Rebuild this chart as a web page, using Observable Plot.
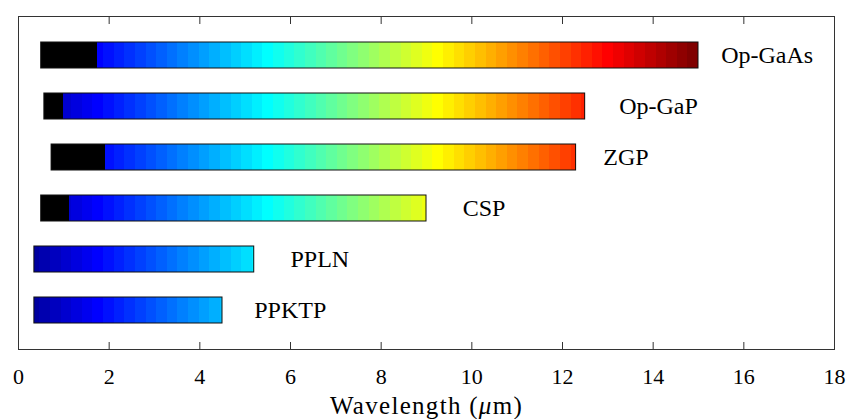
<!DOCTYPE html>
<html>
<head>
<meta charset="utf-8">
<script src="https://cdn.jsdelivr.net/npm/d3@7"></script>
<script src="https://cdn.jsdelivr.net/npm/@observablehq/plot@0.6"></script>
<style>
  html, body { margin: 0; padding: 0; background: #fff; }
  #chart svg { display: block; }
</style>
</head>
<body>
<div id="chart"></div>
<script>
// ---- data ----
const materials = ["Op-GaAs", "Op-GaP", "ZGP", "CSP", "PPLN", "PPKTP"];
const startUm    = [0.50, 0.57, 0.73, 0.50, 0.35, 0.35];
const blackEndUm = [1.74, 1.00, 1.92, 1.12, 0.35, 0.35];
const endUm      = [15.0, 12.5, 12.3, 9.0, 5.2, 4.5];
const labelXUm   = [15.5, 13.25, 12.9, 9.8, 6.0, 5.2];
const xTicks = [0, 2, 4, 6, 8, 10, 12, 14, 16, 18];
const colorMaxUm = 15;   // jet colormap spans 0..15 um
const jetSteps = 64;
const axisTitle = "Wavelength (μm)";

// MATLAB jet(64)
function jet(j) { // j: 1..64
  const u = k => (k < 1 || k > 47) ? 0 : (k <= 16 ? k / 16 : (k <= 31 ? 1 : (48 - k) / 16));
  const r = u(j - 24), g = u(j - 8), b = u(j + 8);
  return `rgb(${Math.round(r * 255)},${Math.round(g * 255)},${Math.round(b * 255)})`;
}

const rows = materials.map((name, i) => ({
  name, start: startUm[i], blackEnd: blackEndUm[i], end: endUm[i], lx: labelXUm[i]
}));

// colour stripes of the colormap between the black part and the end of each bar
const stripes = [];
const w = colorMaxUm / jetSteps;
for (const r of rows) {
  for (let k = 0; k < jetSteps; k++) {
    const a = Math.max(k * w, r.blackEnd), b = Math.min((k + 1) * w, r.end);
    if (b > a) stripes.push({name: r.name, x1: a, x2: b, color: jet(k + 1)});
  }
}
const blacks = rows.filter(r => r.blackEnd > r.start);

const chart = Plot.plot({
  width: 848,
  height: 419,
  marginTop: 16,
  marginRight: 14,
  marginBottom: 70,
  marginLeft: 18,
  style: {fontFamily: "'Liberation Serif', 'Times New Roman', serif", fontSize: "22px", color: "#000", background: "#fff"},
  x: {domain: [0, 18], ticks: xTicks, label: null},
  y: {type: "band", domain: materials, paddingInner: 0.5, paddingOuter: 0.49, axis: null},
  color: {type: "identity"},
  marks: [
    Plot.barX(stripes, {x1: "x1", x2: "x2", y: "name", fill: "color", shapeRendering: "crispEdges"}),
    Plot.barX(blacks, {x1: "start", x2: "blackEnd", y: "name", fill: "#000", shapeRendering: "crispEdges"}),
    Plot.barX(rows, {x1: "start", x2: "end", y: "name", fill: "none", stroke: "#111", strokeWidth: 1}),
    Plot.text(rows, {x: "lx", y: "name", text: "name", textAnchor: "start", fontSize: 24, fill: "#000"}),
    Plot.frame({stroke: "#333"}),
    Plot.axisX({anchor: "bottom", ticks: xTicks, tickSize: -7, tickFormat: () => "", label: null, stroke: "#333"}),
    Plot.axisX({anchor: "top", ticks: xTicks, tickSize: -7, tickFormat: () => "", label: null, stroke: "#333"}),
    Plot.axisX({anchor: "bottom", ticks: xTicks, tickSize: 0, tickPadding: 19, fontSize: 22, label: null}),
    Plot.text([axisTitle], {text: d => d, frameAnchor: "bottom", dy: 64, lineAnchor: "bottom", fontSize: 25, fill: "#000"})
  ]
});

// italic mu in the axis title
for (const t of chart.querySelectorAll("text")) {
  if (t.textContent === axisTitle) {
    t.textContent = "";
    t.setAttribute("letter-spacing", "1.3");
    const parts = [["Wavelength (", null], ["μ", "italic"], ["m)", null]];
    for (const [s, st] of parts) {
      const ts = document.createElementNS("http://www.w3.org/2000/svg", "tspan");
      ts.textContent = s;
      if (st) ts.setAttribute("font-style", st);
      t.appendChild(ts);
    }
  }
}
document.getElementById("chart").appendChild(chart);
</script>
</body>
</html>
